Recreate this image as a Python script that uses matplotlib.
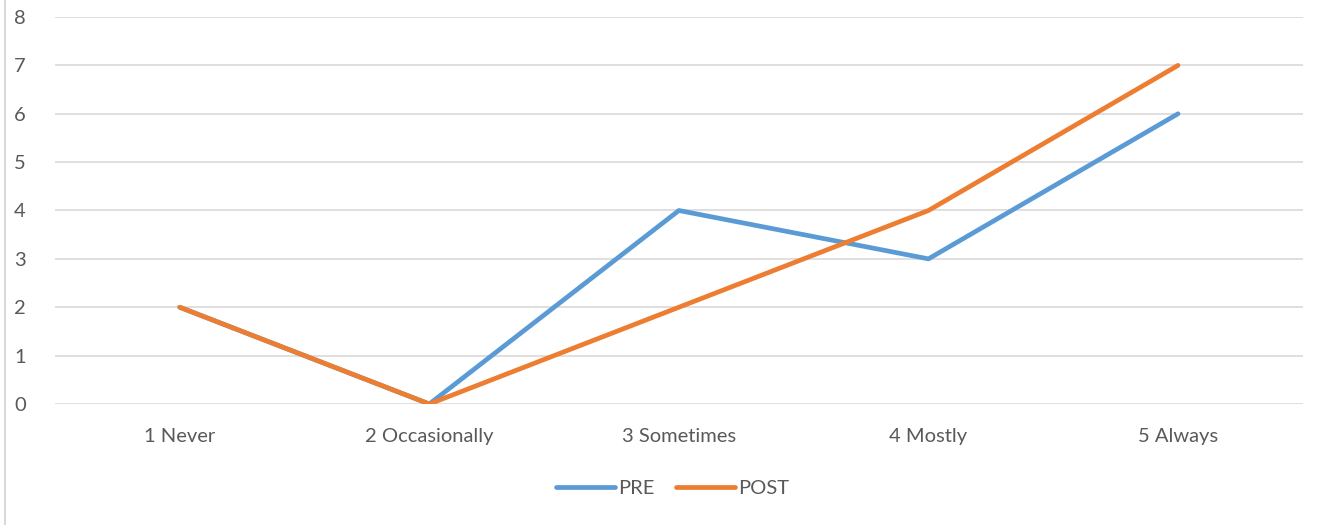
import matplotlib.pyplot as plt
from matplotlib.lines import Line2D

categories = ["1 Never", "2 Occasionally", "3 Sometimes", "4 Mostly", "5 Always"]
pre = [2, 0, 4, 3, 6]
post = [2, 0, 2, 4, 7]

BLUE = "#5B9BD5"
ORANGE = "#ED7D31"
GRID = "#D9D9D9"
TEXT = "#595959"

plt.rcParams["font.family"] = ["Lato", "DejaVu Sans"]

fig = plt.figure(figsize=(13.24, 5.25), dpi=100)
ax = fig.add_axes([0.0415, 0.2305, 0.9425, 0.7371])

x = range(len(categories))
ax.plot(x, pre, color=BLUE, lw=3.4, solid_capstyle="round", label="PRE")
ax.plot(x, post, color=ORANGE, lw=3.4, solid_capstyle="round", label="POST")

ax.set_xlim(-0.5, len(categories) - 0.5)
ax.set_ylim(0, 8)
ax.set_yticks(range(0, 9))
ax.set_xticks(list(x))
ax.set_xticklabels(categories)
ax.tick_params(axis="both", length=0, labelsize=14.5, labelcolor=TEXT)
ax.tick_params(axis="y", pad=21)
ax.tick_params(axis="x", pad=17)
ax.grid(axis="y", color=GRID, lw=1.2)
ax.set_axisbelow(True)
for s in ax.spines.values():
    s.set_visible(False)

leg = ax.legend(loc="center", bbox_to_anchor=(0.508, 0.07), bbox_transform=fig.transFigure,
                ncol=2, frameon=False, fontsize=14.5, handlelength=2.9,
                handletextpad=0.15, columnspacing=1.1)
for t in leg.get_texts():
    t.set_color(TEXT)

# chart area border (left edge)
fig.add_artist(Line2D([0.004, 0.004], [0, 1], transform=fig.transFigure, color=GRID, lw=1.5))

fig.savefig("out.png", dpi=100)
